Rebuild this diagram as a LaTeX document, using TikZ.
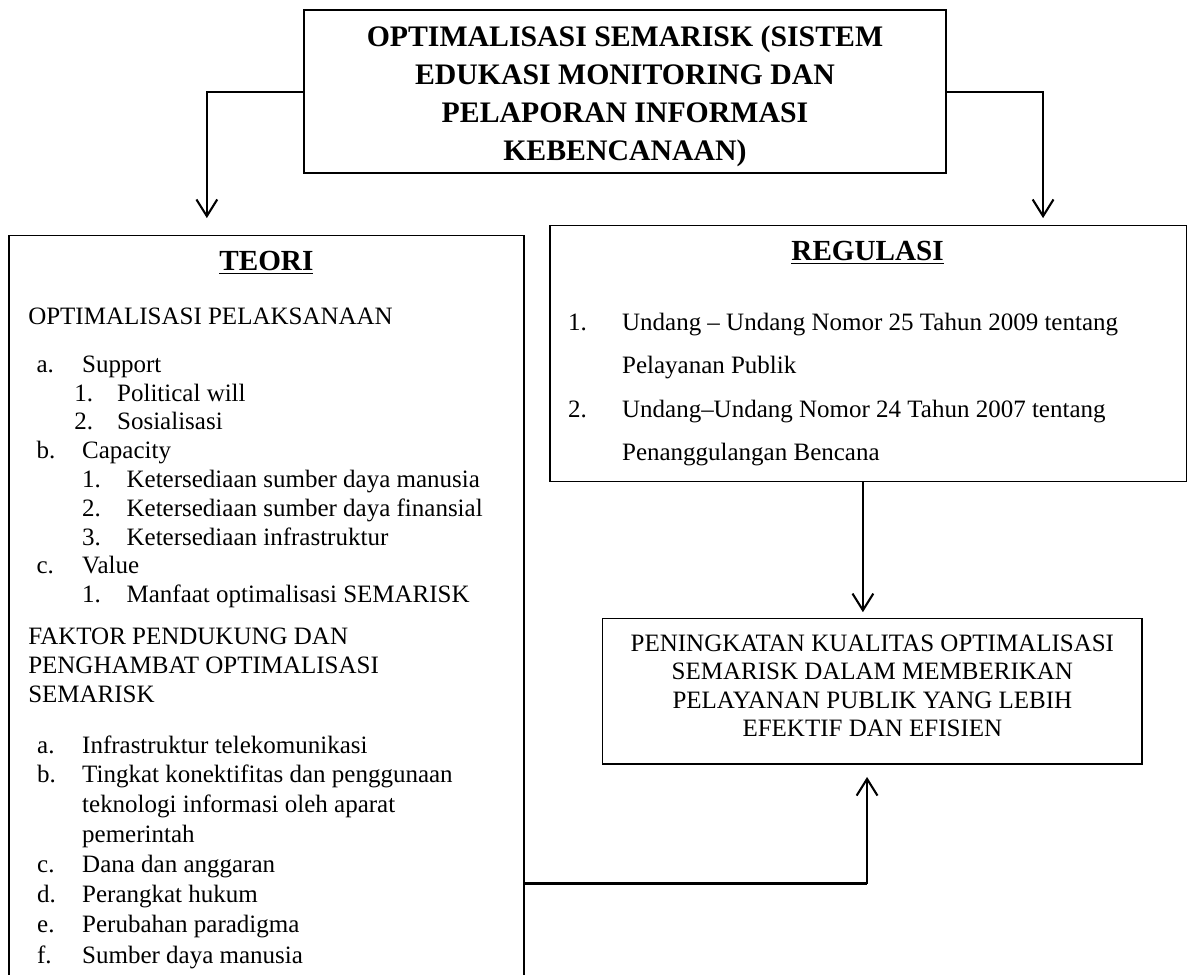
\documentclass[tikz,border=0pt]{standalone}
\usepackage{fontspec}
\setmainfont{LiberationSerif}[Extension=.ttf, UprightFont=*-Regular, BoldFont=*-Bold,
  ItalicFont=*-Italic, BoldItalicFont=*-BoldItalic]
\usetikzlibrary{arrows.meta}

\tikzset{
  kotak/.style={draw, line width=0.6pt, inner sep=0pt},
  panah/.style={line width=1pt, -{Straight Barb[length=8pt,width=10pt]}},
  isi/.style={anchor=base west, inner sep=0pt, font=\fontsize{12}{13.8}\selectfont},
  kepala/.style={inner sep=0pt, font=\fontsize{14}{17}\selectfont\bfseries},
}

\begin{document}
\begin{tikzpicture}
                \useasboundingbox (0,0) rectangle (20.13,16.45);

                % kotak judul
                \node[kotak, minimum width=10.83cm, minimum height=2.75cm, align=center,
                      font=\fontsize{14.3}{18.2}\selectfont\bfseries] (judul) at (10.545,14.905)
                {\rule{0pt}{14.5pt}OPTIMALISASI SEMARISK (SISTEM\\ EDUKASI MONITORING DAN\\
                 PELAPORAN INFORMASI\\ KEBENCANAAN)};

                % kotak teori
                \node[kotak, minimum width=8.69cm, minimum height=12.77cm] (teori) at (4.495,6.085) {};
                \node[kepala] (teoriJudul) at (4.495,12.01) {\underline{TEORI}};

                \node[isi] (opt) at (0.47,10.98) {OPTIMALISASI PELAKSANAAN};

                \node[isi] (aLab) at (0.61,10.17) {a.};
                \node[isi] (aTxt) at (1.38,10.17) {Support};
                \node[isi] (a1Lab) at (1.25,9.68) {1.};
                \node[isi] (a1Txt) at (1.97,9.68) {Political will};
                \node[isi] (a2Lab) at (1.25,9.20) {2.};
                \node[isi] (a2Txt) at (1.97,9.20) {Sosialisasi};

                \node[isi] (bLab) at (0.61,8.72) {b.};
                \node[isi] (bTxt) at (1.38,8.72) {Capacity};
                \node[isi] (b1Lab) at (1.38,8.23) {1.};
                \node[isi] (b1Txt) at (2.13,8.23) {Ketersediaan sumber daya manusia};
                \node[isi] (b2Lab) at (1.38,7.74) {2.};
                \node[isi] (b2Txt) at (2.13,7.74) {Ketersediaan sumber daya finansial};
                \node[isi] (b3Lab) at (1.38,7.25) {3.};
                \node[isi] (b3Txt) at (2.13,7.25) {Ketersediaan infrastruktur};

                \node[isi] (cLab) at (0.61,6.77) {c.};
                \node[isi] (cTxt) at (1.38,6.77) {Value};
                \node[isi] (c1Lab) at (1.38,6.28) {1.};
                \node[isi] (c1Txt) at (2.13,6.28) {Manfaat optimalisasi SEMARISK};

                \node[isi] (faktor1) at (0.47,5.57) {FAKTOR PENDUKUNG DAN};
                \node[isi] (faktor2) at (0.47,5.09) {PENGHAMBAT OPTIMALISASI};
                \node[isi] (faktor3) at (0.47,4.60) {SEMARISK};

                \node[isi] (faLab) at (0.62,3.74) {a.};
                \node[isi] (faTxt) at (1.38,3.74) {Infrastruktur telekomunikasi};
                \node[isi] (fbLab) at (0.62,3.24) {b.};
                \node[isi] (fbTxt) at (1.38,3.24) {Tingkat konektifitas dan penggunaan};
                \node[isi] (fbTxt2) at (1.38,2.74) {teknologi informasi oleh aparat};
                \node[isi] (fbTxt3) at (1.38,2.24) {pemerintah};
                \node[isi] (fcLab) at (0.62,1.73) {c.};
                \node[isi] (fcTxt) at (1.38,1.73) {Dana dan anggaran};
                \node[isi] (fdLab) at (0.62,1.22) {d.};
                \node[isi] (fdTxt) at (1.38,1.22) {Perangkat hukum};
                \node[isi] (feLab) at (0.62,0.71) {e.};
                \node[isi] (feTxt) at (1.38,0.71) {Perubahan paradigma};
                \node[isi] (ffLab) at (0.62,0.20) {f.};
                \node[isi] (ffTxt) at (1.38,0.20) {Sumber daya manusia};

                % kotak regulasi
                \node[kotak, minimum width=10.74cm, minimum height=4.33cm] (regulasi) at (14.65,10.485) {};
                \node[kepala] (regulasiJudul) at (14.64,12.18) {\underline{REGULASI}};

                \node[isi] (r1Lab) at (9.58,10.88) {1.};
                \node[isi] (r1Txt) at (10.49,10.88) {Undang -- Undang Nomor 25 Tahun 2009 tentang};
                \node[isi] (r1Txt2) at (10.49,10.15) {Pelayanan Publik};
                \node[isi] (r2Lab) at (9.58,9.41) {2.};
                \node[isi] (r2Txt) at (10.49,9.41) {Undang--Undang Nomor 24 Tahun 2007 tentang};
                \node[isi] (r2Txt2) at (10.49,8.68) {Penanggulangan Bencana};

                % kotak hasil
                \node[kotak, minimum width=9.10cm, minimum height=2.46cm, align=center,
                      font=\fontsize{12}{13.7}\selectfont] (hasil) at (14.72,4.79)
                {PENINGKATAN KUALITAS OPTIMALISASI\\ SEMARISK DALAM MEMBERIKAN\\
                 PELAYANAN PUBLIK YANG LEBIH\\ EFEKTIF DAN EFISIEN\rule[-5pt]{0pt}{0pt}};

                % penghubung
                \coordinate (ujungKiri) at (3.49,12.77);
                \coordinate (ujungKanan) at (17.60,12.77);
                \coordinate (ujungTengah) at (14.56,6.12);
                \coordinate (ujungBawah) at (14.63,3.34);
                \coordinate (garisBawah) at (0,1.535);

                \draw[panah] (judul.west) -| (ujungKiri);
                \draw[panah] (judul.east) -| (ujungKanan);
                \draw[panah] (ujungTengah |- regulasi.south) -- (ujungTengah);
                \draw[line width=1.4pt] (teori.east |- garisBawah) -- (ujungBawah |- garisBawah);
                \draw[panah] (ujungBawah |- garisBawah) -- (ujungBawah);
            \end{tikzpicture}
\end{document}
